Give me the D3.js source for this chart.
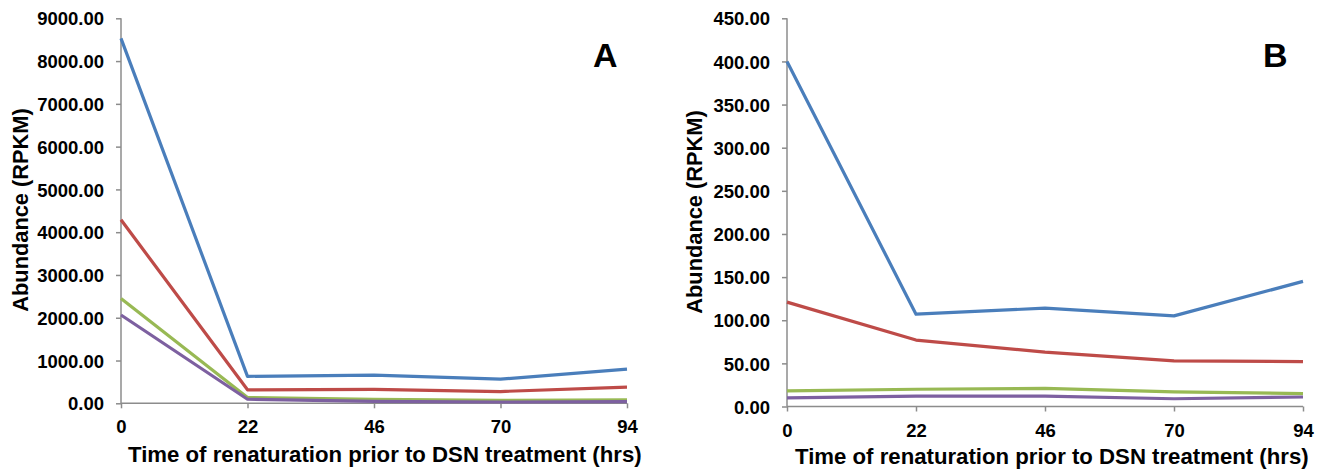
<!DOCTYPE html>
<html>
<head>
<meta charset="utf-8">
<script src="https://cdn.jsdelivr.net/npm/d3@7"></script>
<style>
  body { margin: 0; background: #fff; }
  svg { display: block; font-family: Arial, "Liberation Sans", sans-serif; font-weight: bold; }
  .tick text { font-size: 18.5px; fill: #000; }
  .axis path, .axis line { stroke: #8c8c8c; stroke-width: 1.5; }
</style>
</head>
<body>
<div id="chart"></div>
<script>
// categories (hours of renaturation)
var hours = ["0", "22", "46", "70", "94"];

// panel A values (RPKM)
var aBlue = [8530, 630, 660, 565, 800];
var aRed = [4290, 315, 325, 275, 380];
var aGreen = [2450, 135, 95, 70, 80];
var aPurple = [2065, 95, 45, 30, 40];
var aTicks = [0, 1000, 2000, 3000, 4000, 5000, 6000, 7000, 8000, 9000];

// panel B values (RPKM)
var bBlue = [400, 107, 114, 105, 145];
var bRed = [121, 77, 63, 53, 52];
var bGreen = [18, 20, 21, 17, 15];
var bPurple = [10, 12, 12, 9, 11];
var bTicks = [0, 50, 100, 150, 200, 250, 300, 350, 400, 450];

var colors = ["#4a7ebb", "#be4b48", "#98b954", "#7d60a0"];

var svg = d3.select("#chart")
  .append("svg")
  .attr("width", 1324)
  .attr("height", 471);

function drawPanel(p) {
  var x = d3.scalePoint()
    .domain(hours)
    .range([p.left, p.right]);

  var y = d3.scaleLinear()
    .domain([0, p.max])
    .range([p.bottom, p.top]);

  var g = svg.append("g");

  // y axis
  g.append("g")
    .attr("class", "axis")
    .attr("transform", `translate(${p.left},0)`)
    .call(d3.axisLeft(y).tickValues(p.ticks).tickSize(5).tickPadding(12)
      .tickFormat(d3.format(".2f")))
    .select(".domain").attr("d", `M0,${p.bottom}V${p.top}`);

  g.selectAll(".tick text").attr("dy", "0.36em");

  // x axis
  var xa = g.append("g")
    .attr("class", "axis")
    .attr("transform", `translate(0,${p.bottom})`)
    .call(d3.axisBottom(x).tickSize(5).tickPadding(12));
  xa.select(".domain").attr("d", `M${p.left},0H${p.right}`);

  // lines
  var line = d3.line()
    .x((d, i) => x(hours[i]))
    .y(d => y(d));

  p.series.forEach(function (s, i) {
    g.append("path")
      .datum(s)
      .attr("fill", "none")
      .attr("stroke", colors[i])
      .attr("stroke-width", 3.2)
      .attr("stroke-linejoin", "round")
      .attr("d", line);
  });

  // axis titles
  g.append("text")
    .attr("x", p.xTitleX)
    .attr("y", p.xTitleY)
    .style("font-size", "22.2px")
    .text("Time of renaturation prior to DSN treatment (hrs)");

  g.append("text")
    .attr("transform", `translate(${p.yTitleX},${p.yTitleY}) rotate(-90)`)
    .attr("text-anchor", "middle")
    .style("font-size", "21.8px")
    .text("Abundance (RPKM)");

  // panel letter
  g.append("text")
    .attr("x", p.letterX)
    .attr("y", 67)
    .style("font-size", "34px")
    .text(p.letter);
}

drawPanel({
  left: 121, right: 627, top: 18.3, bottom: 403.3,
  max: 9000, ticks: aTicks,
  series: [aBlue, aRed, aGreen, aPurple],
  xTitleX: 128, xTitleY: 462,
  yTitleX: 28, yTitleY: 210,
  letter: "A", letterX: 593
});

drawPanel({
  left: 787, right: 1303, top: 18.3, bottom: 406.5,
  max: 450, ticks: bTicks,
  series: [bBlue, bRed, bGreen, bPurple],
  xTitleX: 795, xTitleY: 464,
  yTitleX: 702, yTitleY: 212,
  letter: "B", letterX: 1263
});
</script>
</body>
</html>
